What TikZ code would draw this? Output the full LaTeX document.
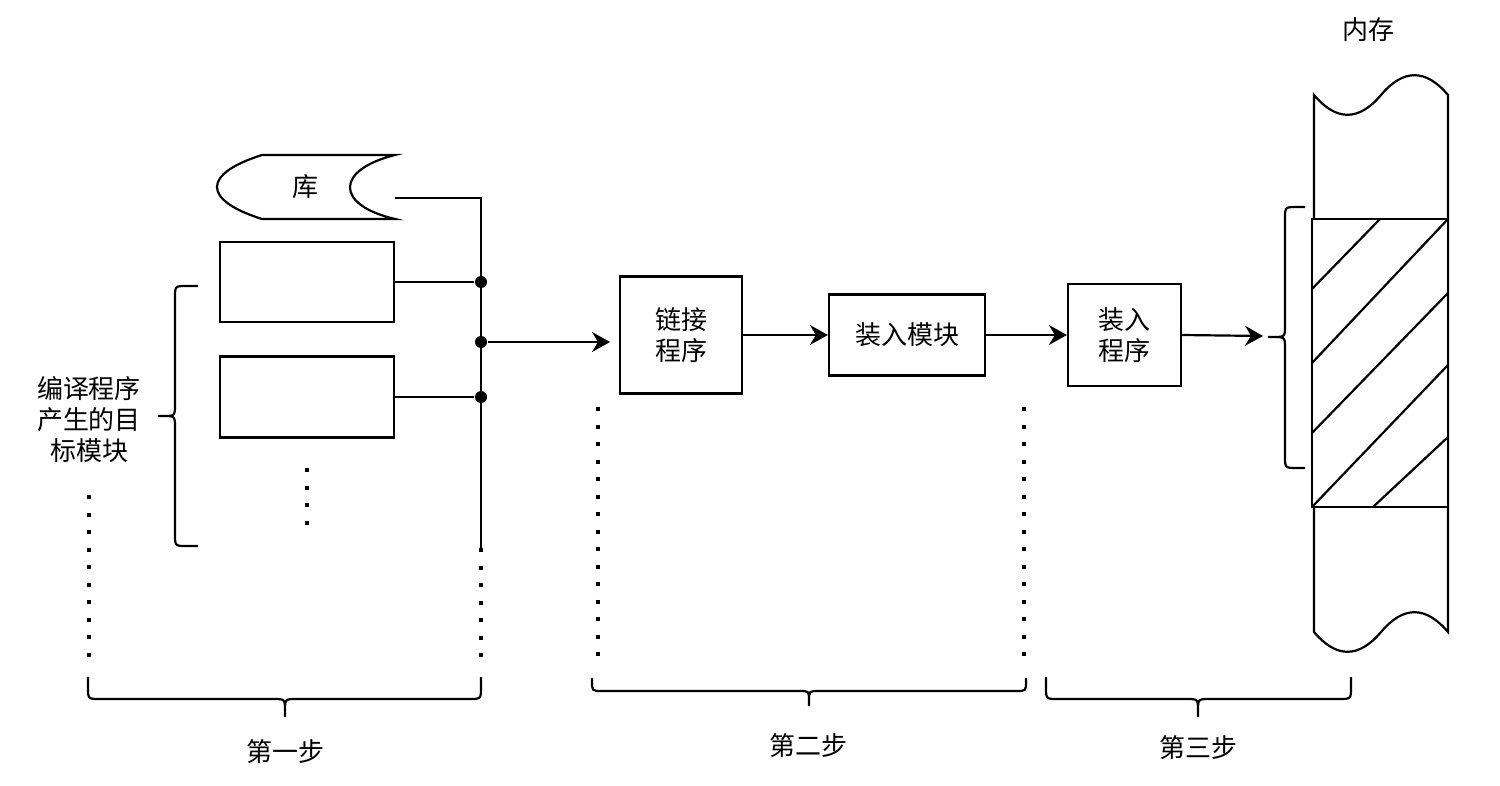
\documentclass[tikz,border=0pt]{standalone}
\usepackage{fontspec}
\setmainfont{Noto Sans CJK SC}
\usetikzlibrary{arrows.meta}
\begin{document}
\begin{tikzpicture}[x=0.5pt,y=-0.5pt,line width=1.1pt,
  every node/.style={font=\fontsize{13}{15.5}\selectfont,align=center,inner sep=0pt},
  box/.style={draw,line width=1.1pt},
  dotline/.style={line width=2pt,dash pattern=on 2pt off 6.75pt},
  arr/.style={-{Stealth[length=9pt,width=10pt,inset=3pt]}},
  junc/.style={circle,fill,inner sep=0pt,minimum size=6pt},
  brace/.style={line width=1.1pt}]
\useasboundingbox (0,0) rectangle (1500,786);

% library shape
\draw (262,155) -- (395,155) .. controls (335,170) and (335,205) .. (395,219)
  -- (262,219) .. controls (202,200) and (202,174) .. (262,155);
\node (lib) at (305,187) {库};
\coordinate (libout) at (395,198);

% object module boxes
\node[box,minimum width=87pt,minimum height=40pt] (b1) at (307,282) {};
\node[box,minimum width=87pt,minimum height=40.5pt] (b2) at (307,397) {};
\draw[dotline] (307,468) -- (307,526);

% bus
\coordinate (busbot) at (481,548);
\coordinate (busend) at (481,657);
\node[junc] (j1) at (481,282) {};
\node[junc] (j2) at (481,342) {};
\node[junc] (j3) at (481,397) {};
\draw (libout) -| (busbot);
\draw (b1.east) -- (j1);
\draw (b2.east) -- (j3);
\draw[dotline] (busbot) -- (busend);
\coordinate (a1end) at (610,342);
\draw[arr] (j2) -- (a1end);

% left label and brace
\node (src) at (89,420) {编译程序\\产生的目\\标模块};
\draw[dotline] (89,495) -- (89,657);
\draw[brace] (198,286) -- (187,286) .. controls (175,286) .. (175,298) -- (175,404)
  .. controls (175,416) .. (163,416) -- (158,416)
  (163,416) .. controls (175,416) .. (175,428) -- (175,534)
  .. controls (175,546) .. (187,546) -- (198,546);

% step 2
\node[box,minimum width=61pt,minimum height=58.5pt] (link) at (681,335) {链接\\程序};
\node[box,minimum width=78pt,minimum height=40.5pt] (mod) at (907,335) {装入模块};
\draw[arr] (link.east) -- (mod.west);
\draw[dotline] (598,407) -- (598,657);
\draw[dotline] (1024,407) -- (1024,657);

% step 3
\node[box,minimum width=56.5pt,minimum height=51pt] (load) at (1124.5,335) {装入\\程序};
\draw[arr] (mod.east) -- (load.west);
\coordinate (a3end) at (1263,336);
\draw[arr] (load.east) -- (a3end);

% right brace
\draw[brace] (1305,207) -- (1297,207) .. controls (1285,207) .. (1285,219) -- (1285,325)
  .. controls (1285,337) .. (1273,337) -- (1268,337)
  (1273,337) .. controls (1285,337) .. (1285,349) -- (1285,456)
  .. controls (1285,468) .. (1297,468) -- (1305,468);

% memory column
\node (mem) at (1368,30) {内存};
\draw (1314,95) .. controls (1336.3,121.4) and (1358.7,121.4) .. (1381,95)
  .. controls (1403.3,68.6) and (1425.7,68.6) .. (1448,95) -- (1448,632)
  .. controls (1425.7,605.6) and (1403.3,605.6) .. (1381,632)
  .. controls (1358.7,658.4) and (1336.3,658.4) .. (1314,632) -- cycle;
\draw[fill=white] (1312,219) rectangle (1448,507);
\draw (1312,289) -- (1380,219);
\draw (1312,363) -- (1448,219);
\draw (1312,433) -- (1448,293);
\draw (1312,507) -- (1448,365);
\draw (1373,507) -- (1448,437);

% bottom braces
\draw[brace] (88,677) -- (88,687) .. controls (88,699) .. (100,699) -- (273,699)
  .. controls (285,699) .. (285,711) -- (285,717)
  (285,711) .. controls (285,699) .. (297,699) -- (469,699)
  .. controls (481,699) .. (481,687) -- (481,677);
\node (s1) at (285,752) {第一步};
\draw[brace] (592,678) -- (592,681) .. controls (592,691) .. (602,691) -- (799,691)
  .. controls (809,691) .. (809,701) -- (809,706)
  (809,701) .. controls (809,691) .. (819,691) -- (1016,691)
  .. controls (1026,691) .. (1026,681) -- (1026,678);
\node (s2) at (808,746) {第二步};
\draw[brace] (1046,677) -- (1046,687) .. controls (1046,699) .. (1058,699) -- (1186,699)
  .. controls (1198,699) .. (1198,711) -- (1198,717)
  (1198,711) .. controls (1198,699) .. (1210,699) -- (1339,699)
  .. controls (1351,699) .. (1351,687) -- (1351,677);
\node (s3) at (1198,748) {第三步};
\end{tikzpicture}
\end{document}
